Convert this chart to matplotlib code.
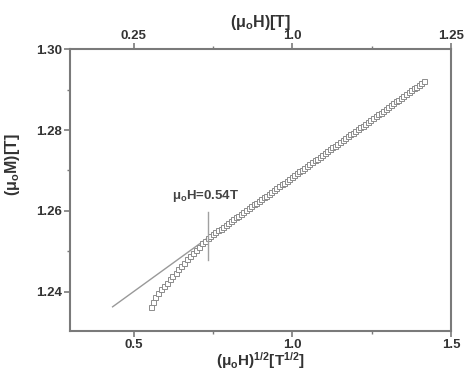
import numpy as np
import matplotlib
matplotlib.use("Agg")
import matplotlib.pyplot as plt
from matplotlib.ticker import FixedLocator

plt.rcParams['font.family'] = ['Liberation Sans', 'DejaVu Sans']
plt.rcParams['mathtext.fontset'] = 'custom'
plt.rcParams['mathtext.rm'] = 'Liberation Sans:bold'
plt.rcParams['mathtext.default'] = 'rm'

# low field part (bends away from the line)
sqrt_h_low = [0.5535, 0.5597, 0.5676, 0.5755, 0.5849, 0.5943, 0.6038, 0.6132, 0.6226, 0.6321,
              0.6415, 0.6509, 0.6604, 0.6698, 0.6792, 0.6887, 0.6981, 0.7075, 0.7170, 0.7264]
m_low = [1.2363, 1.2375, 1.2388, 1.2398, 1.2406, 1.2415, 1.2423, 1.2431, 1.2439, 1.2447,
         1.2456, 1.2464, 1.2472, 1.2480, 1.2488, 1.2496, 1.2504, 1.2512, 1.2520, 1.2526]

# high field part (on the line)
sqrt_h_high = [0.734, 0.742, 0.750, 0.758, 0.766, 0.774, 0.782, 0.790, 0.798, 0.806,
               0.814, 0.822, 0.830, 0.838, 0.846, 0.854, 0.862, 0.870, 0.878, 0.886,
               0.894, 0.902, 0.910, 0.918, 0.926, 0.934, 0.942, 0.950, 0.958, 0.966,
               0.974, 0.982, 0.990, 0.998, 1.006, 1.014, 1.022, 1.030, 1.038, 1.046,
               1.054, 1.062, 1.070, 1.078, 1.086, 1.094, 1.102, 1.110, 1.118, 1.126,
               1.134, 1.142, 1.150, 1.158, 1.166, 1.174, 1.182, 1.190, 1.198, 1.206,
               1.214, 1.222, 1.230, 1.238, 1.246, 1.254, 1.262, 1.270, 1.278, 1.286,
               1.294, 1.302, 1.310, 1.318, 1.326, 1.334, 1.342, 1.350, 1.358, 1.366,
               1.374, 1.382, 1.390, 1.398, 1.406, 1.414]
m_high = [1.2534, 1.2538, 1.2543, 1.2547, 1.2552, 1.2556, 1.2561, 1.2566, 1.2570, 1.2575,
          1.2579, 1.2584, 1.2588, 1.2593, 1.2597, 1.2602, 1.2607, 1.2611, 1.2616, 1.2620,
          1.2625, 1.2629, 1.2634, 1.2638, 1.2643, 1.2648, 1.2652, 1.2657, 1.2661, 1.2666,
          1.2670, 1.2675, 1.2679, 1.2684, 1.2688, 1.2693, 1.2698, 1.2702, 1.2707, 1.2711,
          1.2716, 1.2720, 1.2725, 1.2729, 1.2734, 1.2739, 1.2743, 1.2748, 1.2752, 1.2757,
          1.2761, 1.2766, 1.2770, 1.2775, 1.2780, 1.2784, 1.2789, 1.2793, 1.2798, 1.2802,
          1.2807, 1.2811, 1.2816, 1.2821, 1.2825, 1.2830, 1.2834, 1.2839, 1.2843, 1.2848,
          1.2852, 1.2857, 1.2862, 1.2866, 1.2871, 1.2875, 1.2880, 1.2884, 1.2889, 1.2893,
          1.2898, 1.2903, 1.2907, 1.2912, 1.2916, 1.2921]

sqrt_h = sqrt_h_low + sqrt_h_high
m_val = m_low + m_high

# linear fit line
fit_x = [0.434, 1.412]
fit_y = [1.2363, 1.2919]

# marker at mu0 H = 0.54 T
mark_x = 0.733
mark_y = [1.2479, 1.2598]

bottom_ticks = [0.5, 1.0, 1.5]
bottom_labels = ['0.5', '1.0', '1.5']
top_labels = ['0.25', '1.0', '1.25']
y_ticks = [1.24, 1.26, 1.28, 1.30]

txt = '#333333'
spine = '#7a7a7a'

fig = plt.figure(figsize=(4.67, 3.72), dpi=100)
ax = fig.add_axes([0.150, 0.110, 0.816, 0.758])

ax.plot(fit_x, fit_y, color='#999999', lw=1.0, zorder=1)
ax.plot(sqrt_h, m_val, ls='none', marker='s', ms=3.6, mfc='white', mec='#8c8c8c', mew=0.7, zorder=2)
ax.plot([mark_x, mark_x], mark_y, color='#a0a0a0', lw=1.0)
ax.text(0.726, 1.2617, r'μ$_{\mathrm{o}}$H=0.54T', ha='center', va='bottom', fontsize=9.5, color='#444444',
        fontweight='bold')

ax.set_xlim(0.3, 1.5)
ax.set_ylim(1.2303, 1.30)
ax.set_xticks(bottom_ticks)
ax.set_xticklabels(bottom_labels)
ax.xaxis.set_minor_locator(FixedLocator([0.75, 1.25]))
ax.set_yticks(y_ticks)
ax.set_yticklabels(['%.2f' % v for v in y_ticks])
ax.yaxis.set_minor_locator(FixedLocator([1.25, 1.27, 1.29]))

for s in ax.spines.values():
    s.set_color(spine)
    s.set_linewidth(1.5)

ax.tick_params(which='both', direction='out', colors=spine, labelcolor=txt, labelsize=9.5)
ax.tick_params(which='major', length=4, width=1.2, pad=2)
ax.tick_params(which='minor', length=2, width=1.0)
for lab in ax.get_xticklabels() + ax.get_yticklabels():
    lab.set_fontweight('bold')

ax.set_xlabel(r'(μ$_{\mathrm{o}}$H)$^{1/2}$[T$^{1/2}$]', fontsize=11, fontweight='bold', color=txt, labelpad=-1)
ax.set_ylabel(r'(μ$_{\mathrm{o}}$M)[T]', fontsize=11.5, fontweight='bold', color=txt)
ax.yaxis.set_label_coords(-0.126, 0.589)

top = ax.twiny()
top.set_xlim(ax.get_xlim())
top.set_xticks(bottom_ticks)
top.set_xticklabels(top_labels)
top.xaxis.set_minor_locator(FixedLocator([0.75, 1.25]))
top.tick_params(which='both', direction='out', colors=spine, labelcolor=txt, labelsize=9.5)
top.tick_params(which='major', length=4, width=1.2, pad=1)
top.tick_params(which='minor', length=2, width=1.0)
for lab in top.get_xticklabels():
    lab.set_fontweight('bold')
top.set_xlabel(r'(μ$_{\mathrm{o}}$H)[T]', fontsize=11.5, fontweight='bold', color=txt, labelpad=2)
for s in top.spines.values():
    s.set_visible(False)

fig.savefig('out.png', dpi=100)
